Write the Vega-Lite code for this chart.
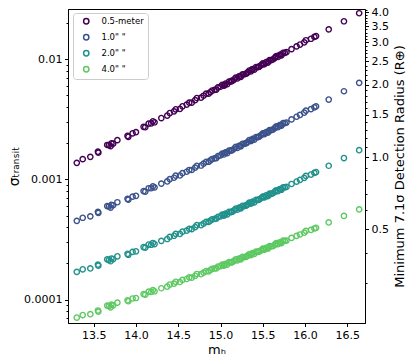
{
  "$schema": "https://vega.github.io/schema/vega-lite/v6.json",
  "autosize": {"type": "none"},
  "padding": {"left": 68, "top": 9, "right": 50, "bottom": 40},
  "width": 297,
  "height": 314,
  "data": {"values": [
    {"m":13.30,"s05":0.001374,"s10":0.000452,"s20":0.000170,"s40":0.0000708},
    {"m":13.37,"s05":0.001476,"s10":0.0004797,"s20":0.0001786,"s40":0.0000743},
    {"m":13.46,"s05":0.001542,"s10":0.000493,"s20":0.0001816,"s40":0.0000755},
    {"m":13.55,"s05":0.001702,"s10":0.000537,"s20":0.0001954,"s40":0.0000811},
    {"m":13.555,"s05":0.001671,"s10":0.000526,"s20":0.0001914,"s40":0.0000794},
    {"m":13.66,"s05":0.001936,"s10":0.000600,"s20":0.0002158,"s40":0.0000891},
    {"m":13.68,"s05":0.001928,"s10":0.000596,"s20":0.0002133,"s40":0.0000881},
    {"m":13.70,"s05":0.001892,"s10":0.000583,"s20":0.0002084,"s40":0.0000861},
    {"m":13.71,"s05":0.002000,"s10":0.000615,"s20":0.0002198,"s40":0.0000906},
    {"m":13.73,"s05":0.001986,"s10":0.000610,"s20":0.0002173,"s40":0.0000895},
    {"m":13.78,"s05":0.002123,"s10":0.000646,"s20":0.0002291,"s40":0.0000942},
    {"m":13.90,"s05":0.002301,"s10":0.000689,"s20":0.0002404,"s40":0.0000986},
    {"m":13.91,"s05":0.002265,"s10":0.000678,"s20":0.000236,"s40":0.0000968},
    {"m":13.96,"s05":0.002421,"s10":0.000719,"s20":0.0002495,"s40":0.0001021},
    {"m":14.00,"s05":0.002477,"s10":0.000731,"s20":0.0002523,"s40":0.000103},
    {"m":14.09,"s05":0.002742,"s10":0.000800,"s20":0.0002735,"s40":0.0001112},
    {"m":14.11,"s05":0.002723,"s10":0.000793,"s20":0.0002704,"s40":0.0001099},
    {"m":14.15,"s05":0.002917,"s10":0.000845,"s20":0.0002871,"s40":0.0001164},
    {"m":14.18,"s05":0.002924,"s10":0.000845,"s20":0.0002858,"s40":0.0001156},
    {"m":14.20,"s05":0.003048,"s10":0.000877,"s20":0.0002958,"s40":0.0001199},
    {"m":14.22,"s05":0.002992,"s10":0.000859,"s20":0.0002897,"s40":0.0001172},
    {"m":14.30,"s05":0.003243,"s10":0.000923,"s20":0.0003083,"s40":0.0001242},
    {"m":14.37,"s05":0.003404,"s10":0.000962,"s20":0.0003192,"s40":0.0001279},
    {"m":14.40,"s05":0.003573,"s10":0.001007,"s20":0.0003327,"s40":0.0001334},
    {"m":14.45,"s05":0.003690,"s10":0.001033,"s20":0.0003396,"s40":0.0001355},
    {"m":14.47,"s05":0.003837,"s10":0.001074,"s20":0.0003524,"s40":0.0001406},
    {"m":14.52,"s05":0.003873,"s10":0.001079,"s20":0.0003516,"s40":0.00014},
    {"m":14.55,"s05":0.004064,"s10":0.001127,"s20":0.0003673,"s40":0.0001459},
    {"m":14.60,"s05":0.004198,"s10":0.001159,"s20":0.000375,"s40":0.0001483},
    {"m":14.63,"s05":0.004355,"s10":0.001199,"s20":0.0003873,"s40":0.0001528},
    {"m":14.66,"s05":0.004365,"s10":0.001199,"s20":0.0003864,"s40":0.0001521},
    {"m":14.70,"s05":0.004571,"s10":0.001253,"s20":0.0004009,"s40":0.0001578},
    {"m":14.72,"s05":0.004764,"s10":0.0013,"s20":0.0004159,"s40":0.0001633},
    {"m":14.77,"s05":0.004797,"s10":0.001306,"s20":0.0004159,"s40":0.0001626},
    {"m":14.80,"s05":0.004977,"s10":0.001352,"s20":0.0004295,"s40":0.0001675},
    {"m":14.83,"s05":0.005176,"s10":0.001403,"s20":0.0004436,"s40":0.0001726},
    {"m":14.86,"s05":0.005188,"s10":0.001403,"s20":0.0004426,"s40":0.0001718},
    {"m":14.88,"s05":0.005333,"s10":0.001442,"s20":0.0004539,"s40":0.0001762},
    {"m":14.90,"s05":0.005495,"s10":0.001479,"s20":0.0004656,"s40":0.0001803},
    {"m":14.93,"s05":0.005572,"s10":0.0015,"s20":0.0004699,"s40":0.0001816},
    {"m":14.95,"s05":0.005598,"s10":0.001507,"s20":0.000471,"s40":0.0001816},
    {"m":14.97,"s05":0.005834,"s10":0.001563,"s20":0.0004887,"s40":0.0001884},
    {"m":15.00,"s05":0.005916,"s10":0.001585,"s20":0.0004932,"s40":0.0001897},
    {"m":15.02,"s05":0.006133,"s10":0.001639,"s20":0.0005093,"s40":0.0001956},
    {"m":15.04,"s05":0.006039,"s10":0.001613,"s20":0.0005003,"s40":0.0001917},
    {"m":15.05,"s05":0.0061,"s10":0.00166,"s20":0.00051,"s40":0.000195},
    {"m":15.06,"s05":0.006289,"s10":0.001677,"s20":0.000519,"s40":0.0001987},
    {"m":15.08,"s05":0.006222,"s10":0.001657,"s20":0.0005121,"s40":0.0001957},
    {"m":15.10,"s05":0.006538,"s10":0.00174,"s20":0.0005366,"s40":0.0002046},
    {"m":15.12,"s05":0.006531,"s10":0.001736,"s20":0.0005342,"s40":0.0002034},
    {"m":15.13,"s05":0.00663,"s10":0.00175,"s20":0.000537,"s40":0.000205},
    {"m":15.14,"s05":0.006612,"s10":0.001756,"s20":0.0005394,"s40":0.000205},
    {"m":15.16,"s05":0.006789,"s10":0.001801,"s20":0.0005523,"s40":0.0002096},
    {"m":15.18,"s05":0.007034,"s10":0.001864,"s20":0.0005708,"s40":0.0002162},
    {"m":15.20,"s05":0.006929,"s10":0.001834,"s20":0.0005607,"s40":0.000212},
    {"m":15.22,"s05":0.007214,"s10":0.001907,"s20":0.0005819,"s40":0.0002198},
    {"m":15.23,"s05":0.00725,"s10":0.0019,"s20":0.00058,"s40":0.000219},
    {"m":15.24,"s05":0.007138,"s10":0.001885,"s20":0.0005743,"s40":0.0002164},
    {"m":15.26,"s05":0.0075,"s10":0.00198,"s20":0.0006017,"s40":0.0002265},
    {"m":15.28,"s05":0.00749,"s10":0.001976,"s20":0.0005994,"s40":0.0002251},
    {"m":15.30,"s05":0.007586,"s10":0.001998,"s20":0.0006053,"s40":0.000227},
    {"m":15.31,"s05":0.00762,"s10":0.00202,"s20":0.000612,"s40":0.000229},
    {"m":15.32,"s05":0.00779,"s10":0.00205,"s20":0.0006198,"s40":0.0002321},
    {"m":15.34,"s05":0.00807,"s10":0.002122,"s20":0.0006407,"s40":0.0002394},
    {"m":15.36,"s05":0.00795,"s10":0.002089,"s20":0.0006295,"s40":0.0002348},
    {"m":15.37,"s05":0.0082,"s10":0.00213,"s20":0.000642,"s40":0.00024},
    {"m":15.38,"s05":0.00828,"s10":0.002173,"s20":0.0006538,"s40":0.0002433},
    {"m":15.40,"s05":0.00819,"s10":0.002148,"s20":0.0006454,"s40":0.0002398},
    {"m":15.42,"s05":0.00861,"s10":0.002255,"s20":0.0006764,"s40":0.0002508},
    {"m":15.44,"s05":0.0086,"s10":0.002251,"s20":0.000674,"s40":0.0002495},
    {"m":15.45,"s05":0.00865,"s10":0.00226,"s20":0.000678,"s40":0.000251},
    {"m":15.46,"s05":0.00871,"s10":0.002278,"s20":0.0006808,"s40":0.0002515},
    {"m":15.48,"s05":0.008935,"s10":0.002337,"s20":0.0006975,"s40":0.0002571},
    {"m":15.50,"s05":0.00926,"s10":0.00242,"s20":0.0007211,"s40":0.0002653},
    {"m":15.51,"s05":0.0091,"s10":0.0024,"s20":0.000715,"s40":0.000262},
    {"m":15.52,"s05":0.00912,"s10":0.002383,"s20":0.0007086,"s40":0.0002603},
    {"m":15.54,"s05":0.009495,"s10":0.002479,"s20":0.0007361,"s40":0.0002698},
    {"m":15.56,"s05":0.009397,"s10":0.002453,"s20":0.0007268,"s40":0.0002659},
    {"m":15.57,"s05":0.00963,"s10":0.00251,"s20":0.000744,"s40":0.000272},
    {"m":15.58,"s05":0.00987,"s10":0.002575,"s20":0.0007621,"s40":0.0002782},
    {"m":15.60,"s05":0.00986,"s10":0.00257,"s20":0.0007595,"s40":0.0002767},
    {"m":15.62,"s05":0.009986,"s10":0.002601,"s20":0.0007676,"s40":0.0002791},
    {"m":15.64,"s05":0.01025,"s10":0.002669,"s20":0.0007864,"s40":0.0002853},
    {"m":15.65,"s05":0.01044,"s10":0.00272,"s20":0.0008,"s40":0.00029},
    {"m":15.66,"s05":0.01063,"s10":0.002766,"s20":0.0008132,"s40":0.0002945},
    {"m":15.68,"s05":0.01046,"s10":0.002723,"s20":0.0007995,"s40":0.0002889},
    {"m":15.70,"s05":0.01089,"s10":0.002834,"s20":0.0008306,"s40":0.0002996},
    {"m":15.71,"s05":0.0109,"s10":0.00282,"s20":0.000826,"s40":0.000297},
    {"m":15.72,"s05":0.01078,"s10":0.002803,"s20":0.0008205,"s40":0.0002953},
    {"m":15.74,"s05":0.01133,"s10":0.002943,"s20":0.0008604,"s40":0.000309},
    {"m":15.76,"s05":0.01131,"s10":0.002939,"s20":0.0008578,"s40":0.0003075},
    {"m":15.78,"s05":0.01146,"s10":0.002976,"s20":0.0008671,"s40":0.0003101},
    {"m":15.84,"s05":0.01217,"s10":0.00316,"s20":0.0009167,"s40":0.0003258},
    {"m":15.90,"s05":0.01282,"s10":0.003326,"s20":0.0009603,"s40":0.0003391},
    {"m":15.94,"s05":0.01327,"s10":0.003442,"s20":0.0009908,"s40":0.0003482},
    {"m":15.99,"s05":0.01385,"s10":0.003593,"s20":0.001031,"s40":0.0003601},
    {"m":16.01,"s05":0.01442,"s10":0.003741,"s20":0.001071,"s40":0.0003734},
    {"m":16.07,"s05":0.01483,"s10":0.00385,"s20":0.001098,"s40":0.00038},
    {"m":16.11,"s05":0.01535,"s10":0.003986,"s20":0.001133,"s40":0.0003905},
    {"m":16.13,"s05":0.01562,"s10":0.004055,"s20":0.001152,"s40":0.0003958},
    {"m":16.28,"s05":0.01777,"s10":0.004624,"s20":0.0013,"s40":0.0004385},
    {"m":16.46,"s05":0.02074,"s10":0.005423,"s20":0.001507,"s40":0.0004967},
    {"m":16.64,"s05":0.0242,"s10":0.006371,"s20":0.001752,"s40":0.0005636}
  ]},
  "transform": [{"fold": ["s05", "s10", "s20", "s40"], "as": ["series", "sigma"]}],
  "layer": [
    {
      "mark": {"type": "point", "filled": false, "size": 28, "strokeWidth": 1.4, "opacity": 1},
      "encoding": {
        "x": {"field": "m", "type": "quantitative",
              "scale": {"domain": [13.196, 16.709], "nice": false, "zero": false},
              "axis": {"values": [13.5, 14, 14.5, 15, 15.5, 16, 16.5], "format": ".1f", "title": "mₕ", "titlePadding": 3}},
        "y": {"field": "sigma", "type": "quantitative",
              "scale": {"type": "log", "domain": [0.0000638, 0.02624], "nice": false},
              "axis": {"orient": "left",
                       "values": [0.00007, 0.00008, 0.00009, 0.0001, 0.0002, 0.0003, 0.0004, 0.0005, 0.0006, 0.0007, 0.0008, 0.0009, 0.001, 0.002, 0.003, 0.004, 0.005, 0.006, 0.007, 0.008, 0.009, 0.01, 0.02],
                       "format": ".4~f",
                       "labelExpr": "abs(log(datum.value)/LN10 - round(log(datum.value)/LN10)) < 0.01 ? datum.label : ''",
                       "tickSize": {"condition": {"test": "abs(log(datum.value)/LN10 - round(log(datum.value)/LN10)) < 0.01", "value": 3.5}, "value": 2},
                       "title": "σₜᵣₐₙₛᵢₜ", "titlePadding": 2, "titleFontSize": 14}},
        "color": {"field": "series", "type": "nominal",
                  "scale": {"domain": ["s05", "s10", "s20", "s40"], "range": ["#440154", "#3b528b", "#21918c", "#5ec962"]},
                  "legend": {"labelExpr": "datum.label == 's05' ? '0.5-meter' : datum.label == 's10' ? '1.0\" \"' : datum.label == 's20' ? '2.0\" \"' : '4.0\" \"'"}}
      }
    },
    {
      "mark": {"type": "point", "opacity": 0},
      "encoding": {
        "x": {"field": "m", "type": "quantitative"},
        "y": {"field": "sigma", "type": "quantitative",
              "scale": {"type": "log", "domain": [0.0000638, 0.02624], "nice": false},
              "axis": {"orient": "right",
                       "values": [0.00013815, 0.0002456, 0.00038375, 0.0005526, 0.00075215, 0.0009824, 0.00124335, 0.001535, 0.00185735, 0.0022104, 0.00259415, 0.0030086, 0.00345375, 0.0039296, 0.00443615, 0.0049734, 0.00554135, 0.00614, 0.00676935, 0.0074294, 0.00812015, 0.0088416, 0.00959375, 0.0103766, 0.01119015, 0.0120344, 0.01290935, 0.013815, 0.01475135, 0.0157184, 0.01671615, 0.0177446, 0.01880375, 0.0198936, 0.02101415, 0.0221654, 0.02334735, 0.02456, 0.02580335],
                       "labelExpr": "abs(sqrt(datum.value/0.001535)*2 - round(sqrt(datum.value/0.001535)*2)) < 0.05 ? format(sqrt(datum.value/0.001535), '.1f') : ''",
                       "tickSize": {"condition": {"test": "abs(sqrt(datum.value/0.001535)*2 - round(sqrt(datum.value/0.001535)*2)) < 0.05", "value": 3.5}, "value": 2},
                       "title": "Minimum 7.1σ Detection Radius (R⊕)", "titleAngle": 270, "titleBaseline": "top", "titlePadding": 5}}
      }
    }
  ],
  "resolve": {"scale": {"y": "independent"}, "axis": {"y": "independent"}},
  "config": {
    "font": "DejaVu Sans",
    "view": {"stroke": "black", "strokeWidth": 1},
    "axis": {"labelFont": "DejaVu Sans", "titleFont": "DejaVu Sans", "labelFontSize": 11, "titleFontSize": 13,
             "titleFontWeight": "normal", "domainColor": "black", "tickColor": "black", "labelColor": "black",
             "titleColor": "black", "grid": false, "tickSize": 3.5, "labelPadding": 2.5, "labelOverlap": false,
             "labelFlush": false, "labelBound": false},
    "legend": {"orient": "none", "legendX": 5, "legendY": 4, "title": null, "padding": 4, "strokeColor": "#cccccc",
               "fillColor": "white", "cornerRadius": 3, "labelFont": "DejaVu Sans", "labelFontSize": 8.5, "labelColor": "black",
               "symbolSize": 28, "symbolStrokeWidth": 1.5, "symbolType": "circle", "rowPadding": 4, "labelOffset": 11, "symbolOffset": 5}
  }
}
